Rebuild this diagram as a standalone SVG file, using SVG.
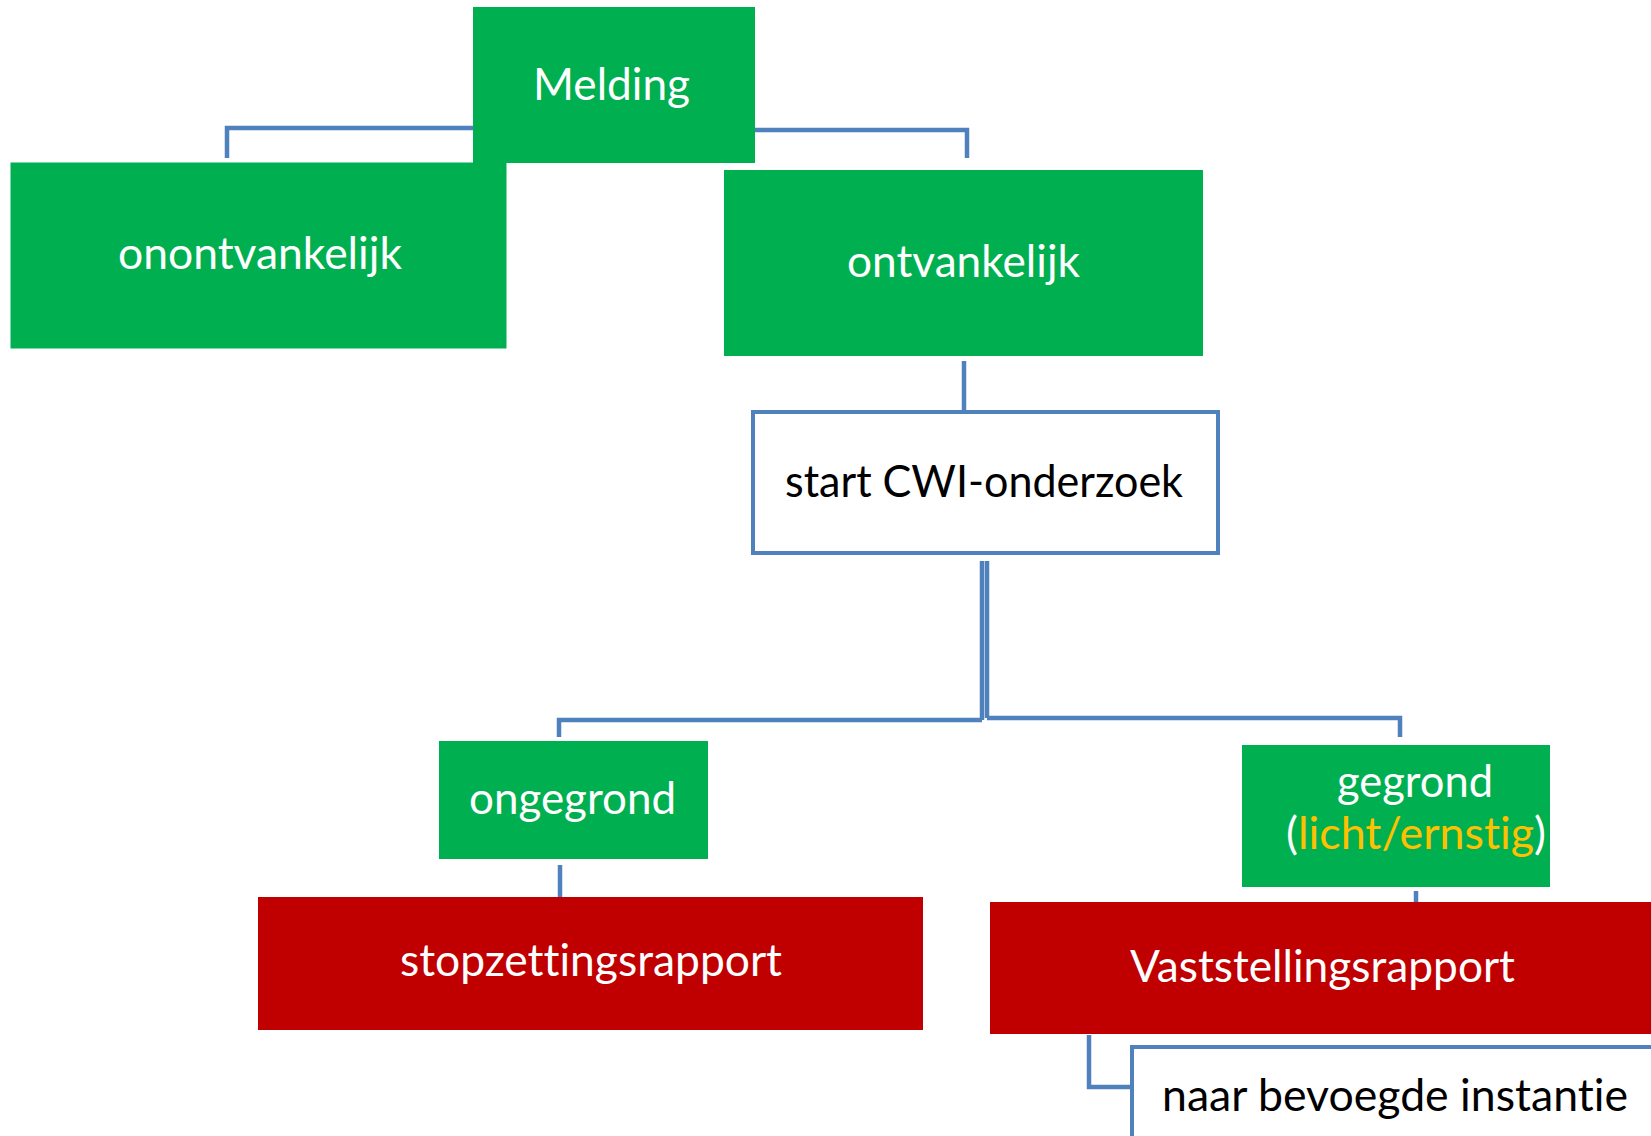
<svg xmlns="http://www.w3.org/2000/svg" width="1651" height="1136" viewBox="0 0 1651 1136">
<style>
.g{fill:#00B050}
.r{fill:#C00000}
.w{fill:#FFFFFF;stroke:#4F81BD;stroke-width:4}
.t{font-family:Lato,"Open Sans","Liberation Sans",sans-serif;font-size:45px;fill:#FFFFFF;font-variant-ligatures:none;font-feature-settings:"liga" 0,"clig" 0}
.k{fill:#000000}
.o{fill:#FFC000}
.c{fill:none;stroke:#4F81BD;stroke-width:4.5}
</style>
<rect width="1651" height="1136" fill="#FFFFFF"/>
<g id="connectors">
<path class="c" d="M474 128 H227 V158"/>
<path class="c" d="M754 130 H967 V158"/>
<path class="c" d="M964 361 V410"/>
<path class="c" d="M982 561 V720"/>
<path class="c" d="M987 561 V718"/>
<path class="c" d="M982 720 H559 V737"/>
<path class="c" d="M987 718 H1400 V737"/>
<path class="c" d="M560 865 V897"/>
<path class="c" d="M1416 891 V902"/>
<path class="c" d="M1089 1035 V1087 H1132"/>
</g>
<g id="onontvankelijk">
<rect class="g" x="10" y="162" width="497" height="187" stroke="#FFFFFF" stroke-width="1"/>
<text class="t" x="118" y="269" textLength="284" lengthAdjust="spacingAndGlyphs">onontvankelijk</text>
</g>
<g id="melding">
<rect class="g" x="473" y="7" width="282" height="156"/>
<text class="t" x="533" y="100" textLength="157" lengthAdjust="spacingAndGlyphs">Melding</text>
</g>
<g id="ontvankelijk">
<rect class="g" x="724" y="170" width="479" height="186"/>
<text class="t" x="847" y="277" textLength="233" lengthAdjust="spacingAndGlyphs">ontvankelijk</text>
</g>
<g id="start-cwi">
<rect class="w" x="753" y="412" width="465" height="141"/>
<text class="t k" x="785" y="497" textLength="398" lengthAdjust="spacingAndGlyphs">start CWI-onderzoek</text>
</g>
<g id="ongegrond">
<rect class="g" x="439" y="741" width="269" height="118"/>
<text class="t" x="469" y="814" textLength="207" lengthAdjust="spacingAndGlyphs">ongegrond</text>
</g>
<g id="stopzettingsrapport">
<rect class="r" x="258" y="897" width="665" height="133"/>
<text class="t" x="400" y="976" textLength="382" lengthAdjust="spacingAndGlyphs">stopzettingsrapport</text>
</g>
<g id="gegrond">
<rect class="g" x="1242" y="745" width="308" height="142"/>
<text class="t" x="1337" y="797" textLength="156" lengthAdjust="spacingAndGlyphs">gegrond</text>
<text class="t" x="1286" y="849" textLength="260" lengthAdjust="spacingAndGlyphs">(<tspan class="o">licht/ernstig</tspan>)</text>
</g>
<g id="vaststellingsrapport">
<rect class="r" x="990" y="902" width="670" height="132"/>
<text class="t" x="1130" y="982" textLength="385" lengthAdjust="spacingAndGlyphs">Vaststellingsrapport</text>
</g>
<g id="naar-bevoegde-instantie">
<rect class="w" x="1132" y="1047" width="600" height="200"/>
<text class="t k" x="1162" y="1111" textLength="466" lengthAdjust="spacingAndGlyphs">naar bevoegde instantie</text>
</g>
</svg>
